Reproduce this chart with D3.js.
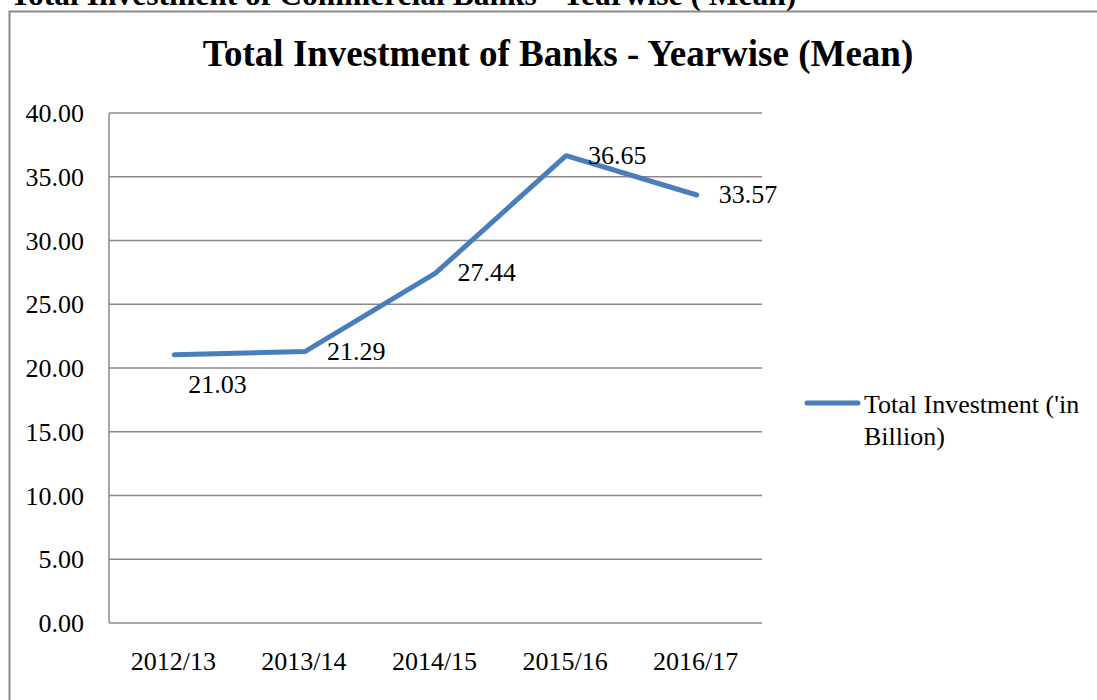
<!DOCTYPE html>
<html>
<head>
<meta charset="utf-8">
<script src="https://cdn.jsdelivr.net/npm/d3@7"></script>
<style>
  html, body { margin: 0; padding: 0; background: #fff; }
  svg { display: block; }
  text { font-family: "Liberation Serif", "Times New Roman", serif; fill: #000; }
</style>
</head>
<body>
<svg id="chart" width="1097" height="700"></svg>
<script>
// Mean total investment per fiscal year
const years = ["2012/13", "2013/14", "2014/15", "2015/16", "2016/17"];
const investment = [21.03, 21.29, 27.44, 36.65, 33.57];
const yTicks = [0, 5, 10, 15, 20, 25, 30, 35, 40];
const seriesName = ["Total Investment ('in", "Billion)"];
const pageHeading = "Total Investment of Commercial Banks - Yearwise ( Mean)";
const chartTitle = "Total Investment of Banks - Yearwise (Mean)";

const svg = d3.select("#chart");
const gridColor = "#898989";
const lineColor = "#4a7ebb";
const labelSize = 26;

// heading of the page section, partly above the frame
svg.append("text")
  .attr("x", 10).attr("y", 5)
  .attr("font-size", 31.5).attr("font-weight", "bold")
  .text(pageHeading);

// chart frame
svg.append("rect")
  .attr("x", 9.5).attr("y", 11.5)
  .attr("width", 1200).attr("height", 800)
  .attr("fill", "#fff")
  .attr("stroke", gridColor).attr("stroke-width", 2);

// chart title
svg.append("text")
  .attr("x", 558).attr("y", 66)
  .attr("text-anchor", "middle")
  .attr("font-size", 37).attr("font-weight", "bold")
  .text(chartTitle);

const plot = { left: 109, right: 762, top: 113, bottom: 623 };

const x = d3.scaleBand().domain(years).range([plot.left, plot.right]);
const y = d3.scaleLinear().domain([0, 40]).range([plot.bottom, plot.top]);
const cx = d => x(d) + x.bandwidth() / 2;

// horizontal gridlines
svg.append("g")
  .selectAll("line")
  .data(yTicks)
  .join("line")
  .attr("x1", plot.left).attr("x2", plot.right)
  .attr("y1", d => y(d)).attr("y2", d => y(d))
  .attr("stroke", gridColor).attr("stroke-width", 1.5);

// vertical axis line
svg.append("line")
  .attr("x1", plot.left).attr("x2", plot.left)
  .attr("y1", plot.top).attr("y2", plot.bottom)
  .attr("stroke", gridColor).attr("stroke-width", 1.5);

// y tick labels
svg.append("g")
  .selectAll("text")
  .data(yTicks)
  .join("text")
  .attr("x", 84)
  .attr("y", d => y(d) + 9)
  .attr("text-anchor", "end")
  .attr("font-size", labelSize)
  .text(d => d3.format(".2f")(d));

// x tick labels
svg.append("g")
  .selectAll("text")
  .data(years)
  .join("text")
  .attr("x", d => cx(d) - 1)
  .attr("y", 670)
  .attr("text-anchor", "middle")
  .attr("font-size", labelSize)
  .text(d => d);

// series line
const pts = years.map((yr, i) => [cx(yr), y(investment[i])]);
svg.append("path")
  .attr("d", d3.line()(pts))
  .attr("fill", "none")
  .attr("stroke", lineColor)
  .attr("stroke-width", 5)
  .attr("stroke-linejoin", "round")
  .attr("stroke-linecap", "round");

// data labels: first one sits below the line, the rest to the right of their point
svg.append("g")
  .selectAll("text")
  .data(investment)
  .join("text")
  .attr("x", (d, i) => pts[i][0] + (i === 0 ? 14 : 22))
  .attr("y", (d, i) => pts[i][1] + (i === 0 ? 38 : 8))
  .attr("font-size", labelSize)
  .text(d => d3.format(".2f")(d));

// legend
svg.append("line")
  .attr("x1", 807).attr("x2", 858)
  .attr("y1", 403).attr("y2", 403)
  .attr("stroke", lineColor).attr("stroke-width", 5)
  .attr("stroke-linecap", "round");
svg.append("g")
  .selectAll("text")
  .data(seriesName)
  .join("text")
  .attr("x", 864)
  .attr("y", (d, i) => 413 + i * 32)
  .attr("font-size", labelSize)
  .text(d => d);
</script>
</body>
</html>
